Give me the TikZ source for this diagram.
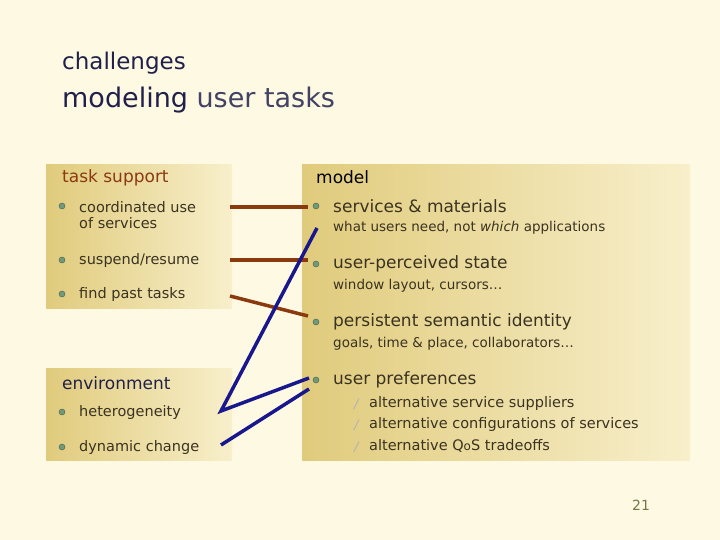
\documentclass[tikz,border=0pt]{standalone}
\usepackage{fontspec}
\setmainfont{DejaVu Sans}
\begin{document}
\begin{tikzpicture}[x=1pt,y=-1pt,
 panel/.style={left color=tanA,right color=tanB,draw=none},
 txt/.style={anchor=west,inner sep=0,font=\fontsize{17}{17}\selectfont,text=textc},
 sm/.style={anchor=west,inner sep=0,font=\fontsize{14.5}{16}\selectfont,text=textc},
 ssm/.style={anchor=west,inner sep=0,font=\fontsize{13.5}{14}\selectfont,text=textc},
 bul/.style={circle,fill=bulc,draw=bulc!60!black,inner sep=0,minimum size=6pt},
 sbul/.style={anchor=west,inner sep=0,font=\fontsize{13}{13}\selectfont,text=gray!60},
 redl/.style={draw=redc,line width=3.5pt},
 bluel/.style={draw=bluec,line width=3.5pt}]
\definecolor{bg}{HTML}{FDF9E3}
\definecolor{tanA}{HTML}{E0CB7C}
\definecolor{tanB}{HTML}{F8EFCB}
\definecolor{textc}{HTML}{3A3320}
\definecolor{bulc}{HTML}{6F9A7C}
\definecolor{redc}{HTML}{8B3A10}
\definecolor{bluec}{HTML}{18188C}
\definecolor{titc}{HTML}{20204A}
\fill[bg] (0,0) rectangle (720,540);
\useasboundingbox (0,0) rectangle (720,540);
\fill[panel] (46,165) rectangle (232,308);
\fill[panel] (46,368) rectangle (232,460);
\fill[panel] (302,165) rectangle (690,460);
\node[anchor=west,inner sep=0,font=\fontsize{23}{24}\selectfont,text=titc] (t1) at (62,63) {challenges};
\node[anchor=west,inner sep=0,font=\fontsize{27}{28}\selectfont,text=titc] (t2) at (62,100) {modeling \textcolor{titc!85}{user tasks}};
\node[txt,text=redc] (ts) at (62,178) {task support};
\node[bul] (b1) at (62,206) {}; \node[sm,align=left] (c1) at (79,215) {coordinated use\\of services};
\node[bul] (b2) at (62,260) {}; \node[sm] (c2) at (79,260) {suspend/resume};
\node[bul] (b3) at (62,294) {}; \node[sm] (c3) at (79,294) {find past tasks};
\node[txt,text=titc] (env) at (62,383) {environment};
\node[bul] (b4) at (62,412) {}; \node[sm] (c4) at (79,412) {heterogeneity};
\node[bul] (b5) at (62,447) {}; \node[sm] (c5) at (79,447) {dynamic change};
\node[txt,text=black] (mo) at (316,177) {model};
\node[bul] (r1) at (316,206) {}; \node[txt] (m1) at (333,206) {services \& materials};
\node[ssm] (s1) at (333,228) {what users need, not \textit{which} applications};
\node[bul] (r2) at (316,264) {}; \node[txt] (m2) at (333,264) {user-perceived state};
\node[ssm] (s2) at (333,286) {window layout, cursors…};
\node[bul] (r3) at (316,322) {}; \node[txt] (m3) at (333,322) {persistent semantic identity};
\node[ssm] (s3) at (333,344) {goals, time \& place, collaborators…};
\node[bul] (r4) at (316,380) {}; \node[txt] (m4) at (333,380) {user preferences};
\node[sbul] (g1) at (354,404) {\textit{/}}; \node[sm] (u1) at (369,403) {alternative service suppliers};
\node[sbul] (g2) at (354,425) {\textit{/}}; \node[sm] (u2) at (369,424) {alternative configurations of services};
\node[sbul] (g3) at (354,447) {\textit{/}}; \node[sm] (u3) at (369,446) {alternative Q{\fontsize{12}{12}\selectfont o}S tradeoffs};
\node[anchor=center,inner sep=0,font=\fontsize{14}{14}\selectfont,text=black!50!yellow!80!black] (pg) at (641,505) {21};
\coordinate (L1) at (230,207); \coordinate (R1) at (308,207);
\coordinate (L2) at (230,260); \coordinate (R2) at (308,260);
\coordinate (L3) at (230,296); \coordinate (R3) at (308,316);
\coordinate (H) at (221,411); \coordinate (Rt) at (317,228);
\coordinate (U1) at (309,378); \coordinate (D) at (221,445); \coordinate (U2) at (309,389);
\draw[redl] (L1) -- (R1);
\draw[redl] (L2) -- (R2);
\draw[redl] (L3) -- (R3);
\draw[bluel,line join=miter] (Rt) -- (H) -- (U1);
\draw[bluel] (D) -- (U2);
\end{tikzpicture}
\end{document}
